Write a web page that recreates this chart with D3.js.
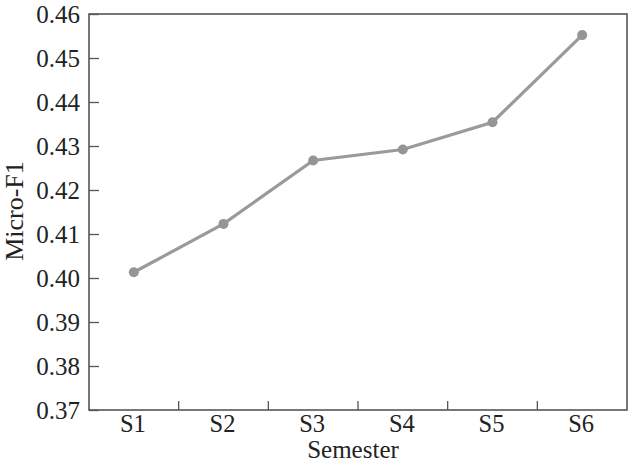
<!DOCTYPE html>
<html><head><meta charset="utf-8">
<script src="https://cdn.jsdelivr.net/npm/d3@7"></script>
<style>body{margin:0;background:#fff}svg{display:block}</style>
</head><body>
<script>
const categories = ["S1","S2","S3","S4","S5","S6"];
const values = [0.4013, 0.4123, 0.4267, 0.4292, 0.4354, 0.4552];
const yTicks = [0.37,0.38,0.39,0.40,0.41,0.42,0.43,0.44,0.45,0.46];

const W = 640, H = 465;
const m = {left: 89, right: 13, top: 14, bottom: 55};
const svg = d3.select("body").append("svg").attr("width", W).attr("height", H);
const x = d3.scaleBand().domain(categories).range([m.left, W - m.right]);
const y = d3.scaleLinear().domain([0.37, 0.46]).range([H - m.bottom, m.top]);
const font = "Liberation Serif, Times New Roman, serif";
const axisColor = "#555";

// frame
svg.append("rect").attr("x", m.left).attr("y", m.top)
  .attr("width", W - m.left - m.right).attr("height", H - m.top - m.bottom)
  .attr("fill", "none").attr("stroke", axisColor).attr("stroke-width", 1.6);

// y axis
const ya = svg.append("g").attr("transform", `translate(${m.left},0)`)
  .call(d3.axisLeft(y).tickValues(yTicks).tickFormat(d3.format(".2f")).tickSizeInner(-10).tickSizeOuter(0).tickPadding(9));
ya.select(".domain").remove();
ya.selectAll("line").attr("stroke", axisColor).attr("stroke-width", 1.3);
ya.selectAll("text").attr("font-family", font).attr("font-size", 25).attr("fill", "#222");

// x axis ticks at band boundaries
const bounds = categories.slice(1).map(c => x(c));
svg.append("g").selectAll("line").data(bounds).join("line")
  .attr("x1", d => d).attr("x2", d => d)
  .attr("y1", H - m.bottom).attr("y2", H - m.bottom - 9)
  .attr("stroke", axisColor).attr("stroke-width", 1.3);
svg.append("g").selectAll("text").data(categories).join("text")
  .attr("x", d => x(d) + x.bandwidth()/2 - 1).attr("y", H - m.bottom + 22)
  .attr("text-anchor", "middle").attr("font-family", font).attr("font-size", 24.5).attr("fill", "#222")
  .text(d => d);

// axis titles
svg.append("text").attr("x", 353).attr("y", 458)
  .attr("text-anchor", "middle").attr("font-family", font).attr("font-size", 25).attr("fill", "#222")
  .text("Semester");
svg.append("text").attr("transform", `translate(23,211) rotate(-90)`)
  .attr("text-anchor", "middle").attr("font-family", font).attr("font-size", 26).attr("fill", "#222")
  .text("Micro-F1");

// line
const pts = categories.map((c,i) => [x(c) + x.bandwidth()/2, y(values[i])]);
svg.append("path").attr("d", d3.line()(pts)).attr("fill", "none")
  .attr("stroke", "#9a9a9a").attr("stroke-width", 3.2);
svg.append("g").selectAll("circle").data(pts).join("circle")
  .attr("cx", d => d[0]).attr("cy", d => d[1]).attr("r", 5)
  .attr("fill", "#959595");
</script>
</body></html>
